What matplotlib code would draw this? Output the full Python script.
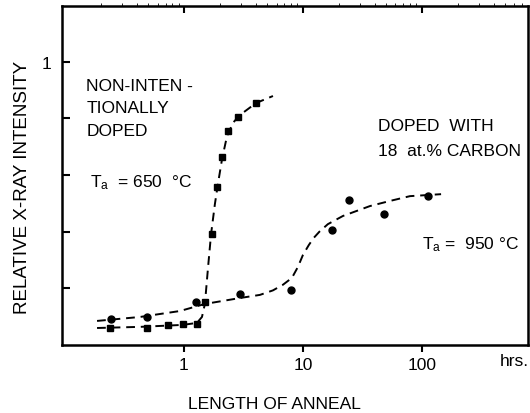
import matplotlib
matplotlib.use("Agg")
import matplotlib.pyplot as plt

plt.rcParams['font.family'] = ['Liberation Sans', 'DejaVu Sans']
plt.rcParams['mathtext.fontset'] = 'custom'
plt.rcParams['mathtext.rm'] = 'Liberation Sans'

# non-intentionally doped, Ta = 650 C (squares)
sq_t = [0.24, 0.49, 0.74, 0.98, 1.28, 1.5, 1.71, 1.9, 2.1, 2.33, 2.86, 4.0]
sq_i = [0.059, 0.059, 0.071, 0.074, 0.074, 0.150, 0.391, 0.556, 0.664, 0.754, 0.806, 0.854]
# dashed guide curve drawn through the squares
sq_curve_t = [0.186, 0.427, 0.98, 1.285, 1.417, 1.50, 1.59, 1.69, 1.82, 1.93, 2.09, 2.30, 2.58, 2.96, 4.03, 5.60]
sq_curve_i = [0.059, 0.063, 0.070, 0.077, 0.098, 0.144, 0.268, 0.391, 0.497, 0.568, 0.656, 0.737, 0.784, 0.812, 0.854, 0.879]

# doped with 18 at.% carbon, Ta = 950 C (circles)
ci_t = [0.242, 0.49, 1.26, 2.96, 7.97, 17.4, 24.5, 47.6, 111.6]
ci_i = [0.091, 0.098, 0.150, 0.180, 0.193, 0.406, 0.512, 0.461, 0.527]
ci_curve_t = [0.186, 0.427, 0.925, 1.50, 2.96, 4.35, 5.6, 6.8, 8.08, 9.08, 10.0, 11.2, 12.3, 13.8, 16.2, 21.7, 28.4, 36.6, 53.8, 79.3, 145.0]
ci_curve_i = [0.084, 0.098, 0.119, 0.144, 0.165, 0.176, 0.192, 0.212, 0.236, 0.275, 0.317, 0.352, 0.377, 0.400, 0.426, 0.455, 0.473, 0.490, 0.508, 0.525, 0.532]

xticks = [1, 10, 100]
xtick_labels = ['1', '10', '100']
yticks = [0.2, 0.4, 0.6, 0.8, 1.0]
ytick_labels = ['', '', '', '', '1']

fig = plt.figure(figsize=(5.3, 4.14), dpi=100)
ax = fig.add_axes([0.117, 0.165, 0.879, 0.818])

dash = dict(color='black', lw=1.4, dashes=(4.5, 3))
ax.plot(sq_curve_t, sq_curve_i, **dash)
ax.plot(ci_curve_t, ci_curve_i, **dash)
ax.plot(sq_t, sq_i, 's', color='black', ms=5, zorder=3)
ax.plot(ci_t, ci_i, 'o', color='black', ms=5, zorder=3)

ax.set_xscale('log')
ax.set_xlim(0.0944, 778)
ax.set_ylim(0, 1.197)
ax.minorticks_off()
ax.set_xticks(xticks)
ax.set_xticklabels(xtick_labels)
ax.set_yticks(yticks)
ax.set_yticklabels(ytick_labels)
ax.tick_params(axis='x', direction='out', length=5, width=1.5, labelsize=12.5, pad=4)
ax.tick_params(axis='y', direction='in', length=6, width=1.5, labelsize=12.5, pad=8)

top = ax.secondary_xaxis('top')
top.set_xticks(xticks)
top.tick_params(direction='in', length=5, width=1.5, labeltop=False)
top.spines['top'].set_visible(False)

for s in ax.spines.values():
    s.set_linewidth(1.8)

ax.set_xlabel('LENGTH OF ANNEAL', fontsize=12.6)
ax.xaxis.set_label_coords(0.455, -0.152)
ax.set_ylabel('RELATIVE X-RAY INTENSITY', fontsize=13.5)
ax.yaxis.set_label_coords(-0.066, 0.466)

fs = 12.5
ax.text(0.052, 0.765, 'NON-INTEN -', transform=ax.transAxes, fontsize=fs, va='center')
ax.text(0.052, 0.700, 'TIONALLY', transform=ax.transAxes, fontsize=fs, va='center')
ax.text(0.052, 0.632, 'DOPED', transform=ax.transAxes, fontsize=fs, va='center')
ax.text(0.060, 0.480, r'$\mathregular{T_a}$  = 650  °C', transform=ax.transAxes, fontsize=fs, va='center')
ax.text(0.678, 0.646, 'DOPED  WITH', transform=ax.transAxes, fontsize=fs, va='center')
ax.text(0.678, 0.572, '18  at.% CARBON', transform=ax.transAxes, fontsize=fs, va='center')
ax.text(0.773, 0.298, r'$\mathregular{T_a}$ =  950 °C', transform=ax.transAxes, fontsize=fs, va='center')
ax.text(0.94, -0.048, 'hrs.', transform=ax.transAxes, fontsize=fs, va='center')

fig.savefig('out.png', dpi=100)
